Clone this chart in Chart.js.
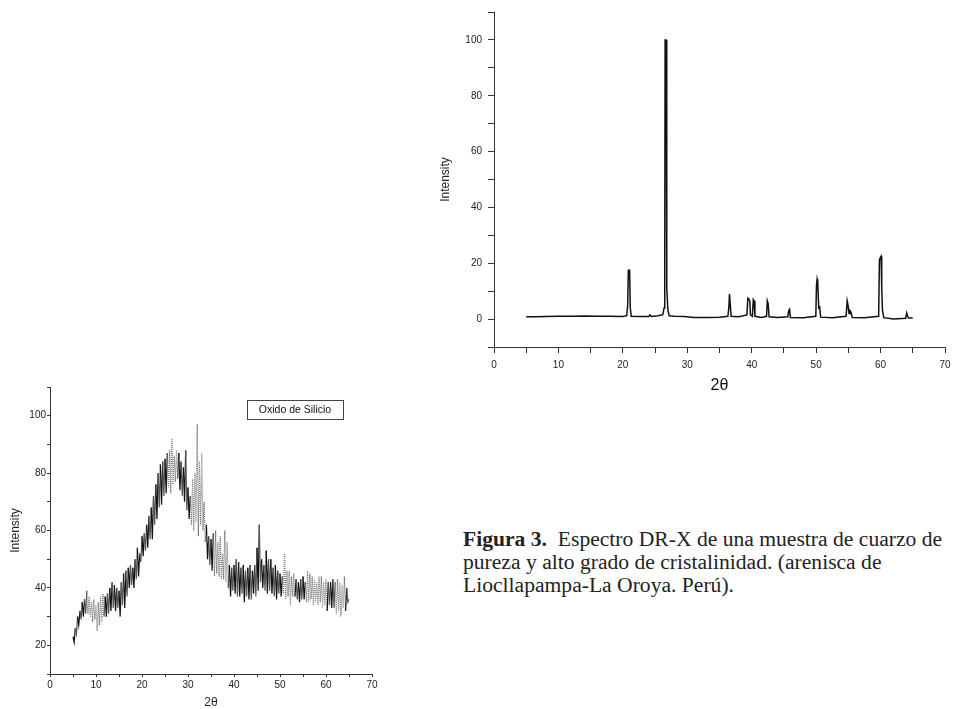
<!DOCTYPE html>
<html>
<head>
<meta charset="utf-8">
<script src="https://cdn.jsdelivr.net/npm/chart.js"></script>
<style>
    body { margin: 0; background: #fff; width: 957px; height: 709px; position: relative; overflow: hidden; }
    canvas { position: absolute; }
    #quartz { left: 430px; top: 0; }
    #silica { left: 0; top: 380px; }
    #caption {
        position: absolute; left: 463px; top: 528px;
        font-family: "Liberation Serif", serif; font-size: 21.6px; line-height: 23px;
        color: #222; white-space: nowrap;
    }
</style>
</head>
<body>
<canvas id="quartz" width="527" height="400"></canvas>
<canvas id="silica" width="390" height="329"></canvas>
<div id="caption"><b>Figura 3.</b>&nbsp; Espectro DR-X de una muestra de cuarzo de<br>pureza y alto grado de cristalinidad. (arenisca de<br>Liocllapampa-La Oroya. Perú).</div>
<script>
// quartz sample (top right), 2theta vs intensity
var quartzTheta = [5, 6.5, 8, 10, 12, 14, 16, 18, 20,
    20.6, 20.75, 20.85, 20.95, 21.05, 21.15, 21.3, 22.5, 24.0, 24.2, 24.4, 25.5,
    26.2, 26.4, 26.5, 26.56, 26.72, 26.78, 26.85, 27.0, 27.2, 28, 29.5, 31, 33, 35,
    36.3, 36.45, 36.55, 36.65, 36.8, 38,
    39.25, 39.4, 39.55, 39.7, 39.8, 40.1, 40.25, 40.38, 40.5, 41.5,
    42.3, 42.42, 42.55, 42.7, 44, 45.6, 45.75, 45.88, 46.0, 48,
    49.95, 50.05, 50.15, 50.25, 50.4, 50.55, 50.7, 52.5,
    54.65, 54.82, 54.95, 55.1, 55.25, 55.4, 55.6, 57.5,
    59.7, 59.82, 59.95, 60.08, 60.18, 60.3, 60.5, 62,
    63.9, 64.05, 64.2, 64.35, 65];
var quartzIntensity = [0.8, 0.8, 0.9, 1.0, 1.0, 1.1, 1.0, 1.0, 0.9,
    1.2, 5, 17.5, 17.5, 17.5, 4, 1.0, 0.9, 0.9, 1.5, 0.9, 1.2,
    1.6, 4, 17, 100, 100, 17, 11, 3, 1.2, 1.0, 0.9, 0.6, 0.6, 0.7,
    1.0, 4, 9, 6, 1.0, 0.8,
    1.5, 7.5, 7.2, 6.5, 1.5, 1.0, 7, 6.5, 1.0, 0.6,
    1.0, 6.5, 5.5, 0.8, 0.6, 0.8, 3, 3.5, 0.6, 0.5,
    1, 12, 14.3, 13, 4, 4.3, 0.7, 0.5,
    1, 6.5, 5, 2, 3, 2.5, 0.6, 0.5,
    1, 21, 22, 22.5, 11, 3, 0.5, 0,
    0.3, 2.2, 1, 0.4, 0.4];

// silica sample (bottom left), one value every 0.25 deg from 5 to 65
var silicaStart = 5, silicaStep = 0.25;
var silicaIntensity = [
    23, 21, 26, 24,  30, 27, 32, 29,  35, 30, 36, 31,  39, 31, 37, 30,  35, 28, 36, 29,   // 5-9
    34, 25, 35, 27,  37, 28, 38, 30,  37, 30, 38, 31,  40, 32, 42, 33,  41, 32, 40, 33,   // 10-14
    39, 30, 42, 34,  45, 33, 46, 37,  47, 40, 48, 41,  47, 40, 50, 43,  54, 44, 52, 49,   // 15-19
    58, 51, 59, 53,  62, 54, 65, 57,  68, 57, 72, 62,  76, 64, 80, 68,  83, 69, 84, 72,   // 20-24
    85, 73, 87, 75,  88, 73, 92, 76,  86, 77, 88, 78,  87, 74, 84, 72,  82, 70, 88, 67,   // 25-29
    75, 64, 72, 62,  78, 60, 80, 63,  97, 58, 84, 62,  87, 60, 70, 56,  62, 50, 58, 48,   // 30-34
    57, 46, 59, 44,  60, 45, 56, 44,  58, 43, 52, 43,  60, 42, 56, 40,  48, 37, 47, 39,   // 35-39
    48, 38, 50, 37,  49, 37, 47, 38,  48, 35, 46, 37,  47, 36, 48, 36,  46, 38, 48, 37,   // 40-44
    54, 39, 62, 42,  50, 40, 48, 39,  53, 38, 50, 39,  50, 38, 47, 37,  48, 36, 46, 38,   // 45-49
    45, 37, 44, 38,  52, 36, 46, 37,  46, 34, 44, 37,  45, 37, 43, 36,  42, 35, 43, 36,   // 50-54
    44, 36, 42, 35,  46, 35, 45, 36,  44, 34, 43, 35,  42, 34, 44, 35,  44, 33, 42, 34,   // 55-59
    43, 32, 42, 34,  42, 33, 43, 33,  42, 31, 43, 32,  42, 30, 41, 33,  44, 32, 40, 35,   // 60-64
    36];
var silicaLabel = 'Oxido de Silicio';

// parts of the silica trace printed grey/dotted in the scan
var dottedRanges = [[8, 11.5], [25.5, 27.5], [30.5, 33.8], [35.5, 38.5], [50.5, 53], [55.5, 60], [62, 64]];

var tickFont = { family: 'Liberation Sans', size: 10 };
var axisColor = '#333';

function fixWidth(w) { return function (scale) { scale.width = w; }; }
function fixHeight(h) { return function (scale) { scale.height = h; }; }

var quartzPoints = [];
for (var i = 0; i < quartzTheta.length; i++) quartzPoints.push({ x: quartzTheta[i], y: quartzIntensity[i] });

new Chart(document.getElementById('quartz'), {
    type: 'line',
    data: { datasets: [{ data: quartzPoints, borderColor: '#111', borderWidth: 1.5, pointRadius: 0, tension: 0 }] },
    options: {
        responsive: false, animation: false, devicePixelRatio: 1,
        layout: { padding: { top: 10, right: 12, left: 0, bottom: 0 } },
        plugins: { legend: { display: false }, tooltip: { enabled: false } },
        scales: {
            x: {
                type: 'linear', min: 0, max: 70,
                afterFit: fixHeight(53),
                border: { color: axisColor, width: 1 },
                grid: { drawOnChartArea: false, tickLength: 6, color: axisColor },
                ticks: {
                    stepSize: 5, padding: 6, color: '#222', font: tickFont, maxRotation: 0, autoSkip: false,
                    callback: function (v) { return v % 10 === 0 ? v : ''; }
                },
                title: { display: true, text: '2θ', color: '#111', font: { family: 'Liberation Sans', size: 16 }, padding: { bottom: 5, top: 0 } }
            },
            y: {
                min: -10, max: 110,
                afterFit: fixWidth(64),
                border: { color: axisColor, width: 1 },
                grid: { drawOnChartArea: false, tickLength: 6, color: axisColor },
                ticks: {
                    stepSize: 10, padding: 6, color: '#222', font: tickFont, autoSkip: false,
                    callback: function (v) { return (v % 20 === 0 && v >= 0 && v <= 100) ? v : ''; }
                },
                title: { display: true, text: 'Intensity', color: '#222', font: { family: 'Liberation Sans', size: 12 }, padding: { top: 8, bottom: 0 } }
            }
        }
    }
});

var silicaPoints = [];
for (var j = 0; j < silicaIntensity.length; j++) silicaPoints.push({ x: silicaStart + j * silicaStep, y: silicaIntensity[j] });

function inDotted(x) {
    for (var k = 0; k < dottedRanges.length; k++) {
        if (x >= dottedRanges[k][0] && x <= dottedRanges[k][1]) return true;
    }
    return false;
}

var legendBox = {
    id: 'legendBox',
    afterDraw: function (chart) {
        var ctx = chart.ctx;
        ctx.save();
        ctx.strokeStyle = '#444';
        ctx.lineWidth = 1;
        ctx.strokeRect(247.5, 20.5, 96, 19);
        ctx.fillStyle = '#111';
        ctx.font = '10.5px "Liberation Sans"';
        ctx.textAlign = 'center';
        ctx.textBaseline = 'middle';
        ctx.fillText(silicaLabel, 295, 30);
        ctx.restore();
    }
};

new Chart(document.getElementById('silica'), {
    type: 'line',
    data: {
        datasets: [{
            label: silicaLabel, data: silicaPoints, borderWidth: 1.2, pointRadius: 0, tension: 0,
            borderColor: '#222',
            segment: {
                borderColor: function (c) { return inDotted(c.p0.parsed.x) ? '#777' : (c.p0DataIndex % 4 < 2 ? '#111' : '#555'); },
                borderDash: function (c) { return inDotted(c.p0.parsed.x) ? [1, 1] : undefined; }
            }
        }]
    },
    plugins: [legendBox],
    options: {
        responsive: false, animation: false, devicePixelRatio: 1,
        layout: { padding: { top: 3, right: 18, left: 0, bottom: 0 } },
        plugins: { legend: { display: false }, tooltip: { enabled: false } },
        scales: {
            x: {
                type: 'linear', min: 0, max: 70,
                afterFit: fixHeight(35),
                border: { color: axisColor, width: 1 },
                grid: { drawOnChartArea: false, tickLength: 3, color: axisColor },
                ticks: {
                    stepSize: 5, padding: 2, color: '#222', font: tickFont, maxRotation: 0, autoSkip: false,
                    callback: function (v) { return v % 10 === 0 ? v : ''; }
                },
                title: { display: true, text: '2θ', color: '#222', font: { family: 'Liberation Sans', size: 12, lineHeight: 1 }, padding: 0 }
            },
            y: {
                min: 10, max: 110,
                afterFit: fixWidth(50),
                border: { color: axisColor, width: 1 },
                grid: { drawOnChartArea: false, tickLength: 3, color: axisColor },
                ticks: {
                    stepSize: 10, padding: 1, color: '#222', font: tickFont, autoSkip: false,
                    callback: function (v) { return (v % 20 === 0 && v >= 20 && v <= 100) ? v : ''; }
                },
                title: { display: true, text: 'Intensity', color: '#222', font: { family: 'Liberation Sans', size: 12 }, padding: { top: 8, bottom: 0 } }
            }
        }
    }
});
</script>
</body>
</html>
